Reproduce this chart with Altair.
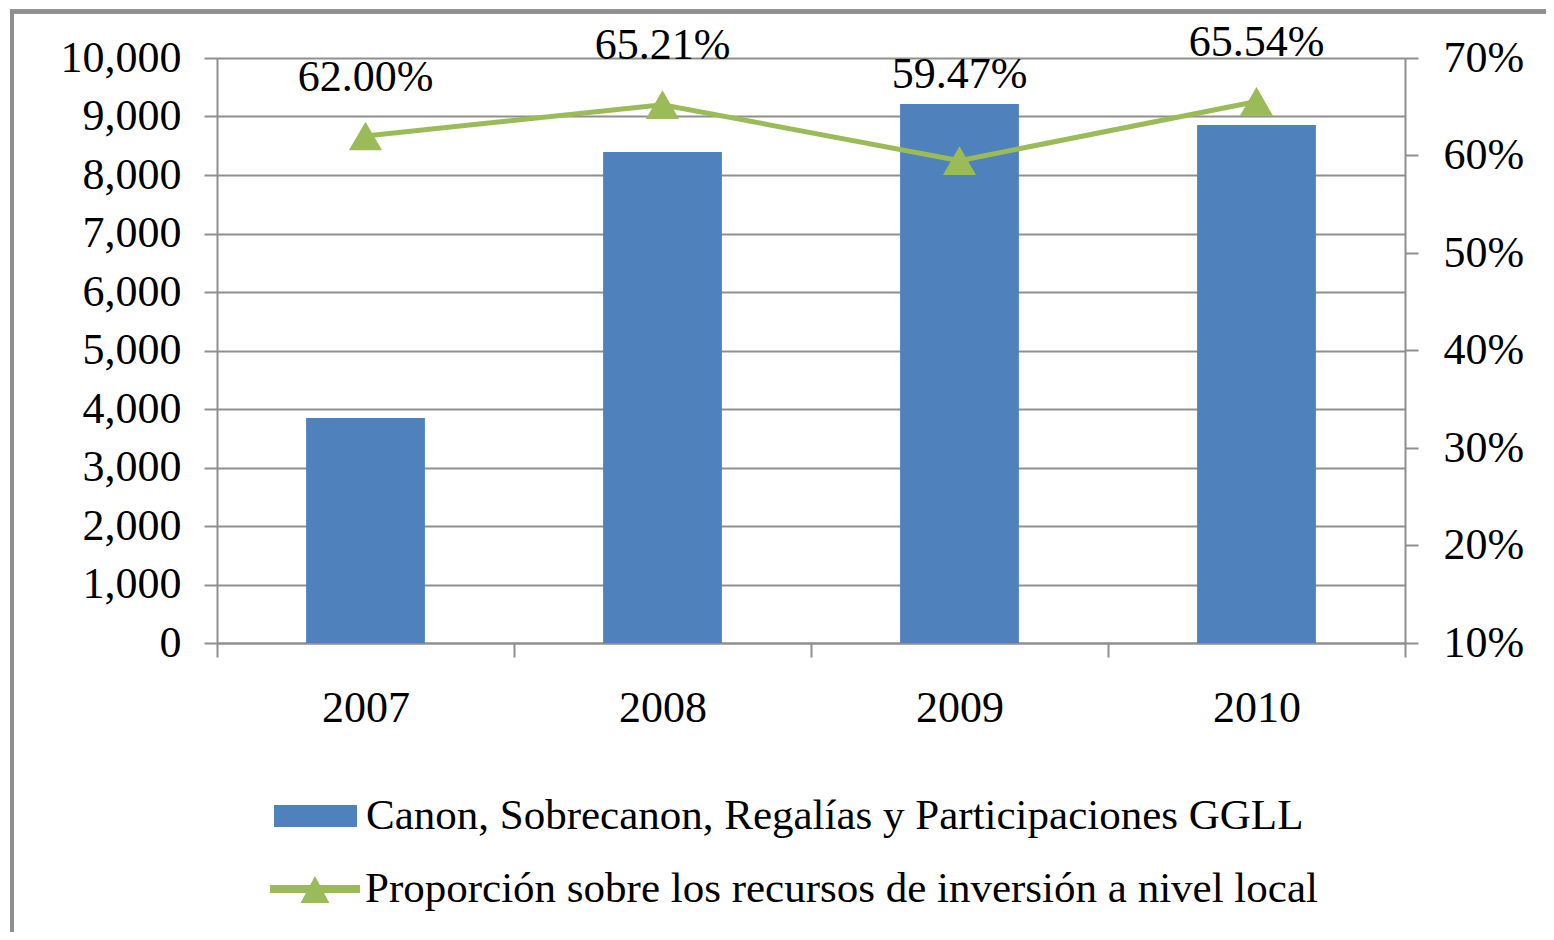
import altair as alt
import pandas as pd

years = ["2007", "2008", "2009", "2010"]
canon = [3846, 8393, 9214, 8855]
proporcion = [0.6200, 0.6521, 0.5947, 0.6554]
bar_name = "Canon, Sobrecanon, Regalías y Participaciones GGLL"
line_name = "Proporción sobre los recursos de inversión a nivel local"
left_ticks = list(range(0, 10001, 1000))
right_ticks = [0.1, 0.2, 0.3, 0.4, 0.5, 0.6, 0.7]

df = pd.DataFrame({
    "year": years,
    "canon": canon,
    "pct": proporcion,
    "s1": [bar_name] * 4,
    "s2": [line_name] * 4,
})

FONT = "Liberation Serif"
FS = 44
LFS = 43
GRAY = "#8f8f8f"
BLUE = "#4F81BD"
GREEN = "#9BBB59"

x = alt.X("year:N", sort=years, title=None,
          scale=alt.Scale(paddingInner=0, paddingOuter=0),
          axis=alt.Axis(labelAngle=0, labelFont=FONT, labelFontSize=FS, labelColor="black",
                        labelPadding=29, tickSize=14, tickWidth=2, tickColor=GRAY,
                        tickBand="extent", domainColor=GRAY, domainWidth=2, grid=False))

bars = alt.Chart(df).mark_bar(opacity=1, width=alt.RelativeBandSize(0.4)).encode(
    x=x,
    y=alt.Y("canon:Q", title=None,
            scale=alt.Scale(domain=[0, 10000], nice=False),
            axis=alt.Axis(values=left_ticks, format=",.0f", labelFont=FONT, labelFontSize=FS,
                          labelColor="black", labelPadding=23, tickSize=13, tickWidth=2,
                          tickColor=GRAY, domainColor=GRAY, domainWidth=2, grid=True,
                          gridColor=GRAY, gridWidth=2, orient="left")),
    color=alt.Color("s1:N", scale=alt.Scale(domain=[bar_name], range=[BLUE]),
                    legend=alt.Legend(title=None, orient="none", legendX=57, legendY=716.5,
                                      symbolType="M-1,-0.265H1V0.265H-1Z", symbolSize=6889,
                                      symbolStrokeWidth=0, symbolOpacity=1,
                                      labelFont=FONT, labelFontSize=LFS, labelColor="black",
                                      labelLimit=2000, labelOffset=9, padding=0)),
)

yr_axis = alt.Axis(values=right_ticks, format=".0%", orient="right", labelFont=FONT,
                   labelFontSize=FS, labelColor="black", labelPadding=25, tickSize=13,
                   tickWidth=2, tickColor=GRAY, domainColor=GRAY, domainWidth=2, grid=False)
yr = alt.Scale(domain=[0.1, 0.7], nice=False)

line = alt.Chart(df).mark_line(color=GREEN, strokeWidth=5).encode(
    x=x,
    y=alt.Y("pct:Q", title=None, scale=yr, axis=yr_axis),
)

points = alt.Chart(df).mark_point(shape="triangle-up", filled=True, size=1100, opacity=1,
                                  strokeWidth=0).encode(
    x=x,
    y=alt.Y("pct:Q", title=None, scale=yr, axis=yr_axis),
    fill=alt.Fill("s2:N", scale=alt.Scale(domain=[line_name], range=[GREEN]),
                  legend=alt.Legend(title=None, orient="none", legendX=53, legendY=786,
                                    symbolType="M-1,-0.09H1V0.09H-1Z M-0.32,0.31L0,-0.29L0.32,0.31Z",
                                    symbolSize=8100, symbolStrokeWidth=0, symbolOpacity=1,
                                    labelFont=FONT, labelFontSize=LFS, labelColor="black",
                                    labelLimit=2000, labelOffset=5, padding=0)),
)

labels = alt.Chart(df).transform_calculate(
    labpos="max(datum.pct + 0.06, 0.1 + datum.canon / 10000 * 0.6 + 0.03)"
).mark_text(font=FONT, fontSize=FS, color="black", baseline="middle", align="center").encode(
    x=x,
    y=alt.Y("labpos:Q", title=None, scale=yr, axis=yr_axis),
    text=alt.Text("pct:Q", format=".2%"),
)

frame_left = alt.Chart(df).mark_rule(color=GRAY, strokeWidth=4).encode(
    x=alt.value(-205), y=alt.value(-46.5), y2=alt.value(900)
)
frame_top = alt.Chart(df).mark_rule(color=GRAY, strokeWidth=4).encode(
    x=alt.value(-207), x2=alt.value(1500), y=alt.value(-46.5)
)

right = alt.layer(line, points, labels)

main = alt.layer(bars, right).resolve_scale(
    y="independent", color="independent", fill="independent"
).resolve_axis(y="independent")

chart = alt.layer(frame_left, frame_top, main).properties(
    width=1188, height=585,
    autosize=alt.AutoSizeParams(type="none"),
    padding={"left": 209, "top": 50, "right": 141, "bottom": 289},
    background="white",
).configure_view(strokeWidth=0)

chart.save("out.html", embed_options={"renderer": "svg", "actions": False})
